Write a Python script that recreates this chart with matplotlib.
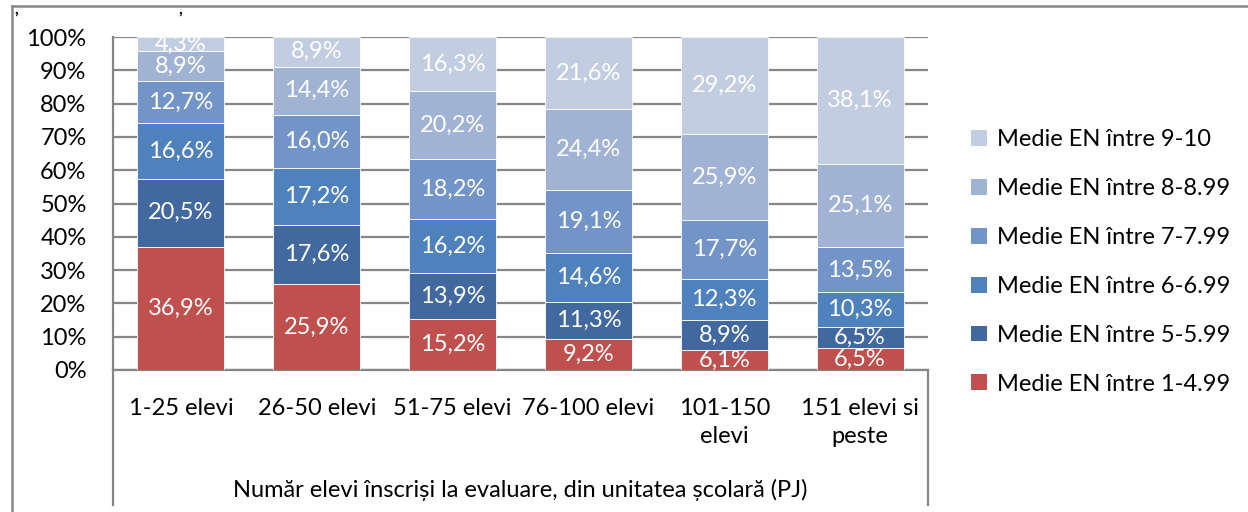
import matplotlib
matplotlib.use("Agg")
import matplotlib.pyplot as plt
from matplotlib.lines import Line2D
from matplotlib.patches import Patch
import numpy as np

plt.rcParams['font.family'] = ['Lato', 'DejaVu Sans']

categories = ["1-25 elevi", "26-50 elevi", "51-75 elevi", "76-100 elevi",
              "101-150\nelevi", "151 elevi si\npeste"]
series_names = ["Medie EN între 1-4.99", "Medie EN între 5-5.99", "Medie EN între 6-6.99",
                "Medie EN între 7-7.99", "Medie EN între 8-8.99", "Medie EN între 9-10"]
s_1_499 = [36.9, 25.9, 15.2, 9.2, 6.1, 6.5]
s_5_599 = [20.5, 17.6, 13.9, 11.3, 8.9, 6.5]
s_6_699 = [16.6, 17.2, 16.2, 14.6, 12.3, 10.3]
s_7_799 = [12.7, 16.0, 18.2, 19.1, 17.7, 13.5]
s_8_899 = [8.9, 14.4, 20.2, 24.4, 25.9, 25.1]
s_9_10 = [4.3, 8.9, 16.3, 21.6, 29.2, 38.1]
colors = ["#C0504D", "#41699F", "#4F81BD", "#7394C6", "#A1B3D5", "#C3CDE2"]
y_ticks = [0, 10, 20, 30, 40, 50, 60, 70, 80, 90, 100]
x_title = "Număr elevi înscriși la evaluare, din unitatea școlară (PJ)"

series = [s_1_499, s_5_599, s_6_699, s_7_799, s_8_899, s_9_10]
data = np.array(series)
totals = data.sum(axis=0)
norm = data / totals * 100

FS = 17
W, H = 1248, 512
fig = plt.figure(figsize=(W / 100, H / 100), dpi=100)
L, R, T, B = 113, 928, 37, 370
ax = fig.add_axes([L / W, 1 - B / H, (R - L) / W, (B - T) / H])

x = np.arange(len(categories))
bottom = np.zeros(len(categories))
handles = []
for vals, raw, c, name in zip(norm, data, colors, series_names):
    ax.bar(x, vals, bottom=bottom, width=0.64, color=c, edgecolor='white',
           linewidth=0.6, zorder=3)
    for xi, b, v, r in zip(x, bottom, vals, raw):
        ax.text(xi, b + v / 2, f"{r:.1f}%".replace('.', ','), ha='center', va='center',
                color='white', fontsize=FS, zorder=4)
    bottom += vals
    handles.append(Patch(facecolor=c, edgecolor='none', label=name))

ax.set_xlim(-0.5, len(categories) - 0.5)
ax.set_ylim(0, 100)
ax.set_yticks(y_ticks)
ax.set_yticklabels([f"{t}%" for t in y_ticks], fontsize=FS)
ax.tick_params(axis='y', length=0, pad=19)
ax.tick_params(axis='x', length=0, pad=20, labelsize=FS)
ax.set_xticks(x)
ax.set_xticklabels(categories, linespacing=1.4, va='top')
ax.yaxis.grid(True, color='#868686', linewidth=1.6, zorder=0)
ax.set_axisbelow(True)
for s in ['top', 'right']:
    ax.spines[s].set_visible(False)
ax.spines['left'].set_color('#868686')
ax.spines['left'].set_linewidth(1.6)
ax.spines['bottom'].set_color('#868686')
ax.spines['bottom'].set_linewidth(1.6)

depth = (505 - B) / (B - T)
for xa in (0, 1):
    ax.add_line(Line2D([xa, xa], [0, -depth], transform=ax.transAxes, color='#868686',
                       linewidth=1.6, clip_on=False))
ax.text(0.5, -(490 - B) / (B - T), x_title, transform=ax.transAxes, ha='center',
        va='center', fontsize=FS)

leg = fig.legend(handles=handles[::-1], loc='center left',
                 bbox_to_anchor=(962 / W, 1 - 262 / H), frameon=False, fontsize=FS,
                 handlelength=0.65, handleheight=0.65, handletextpad=0.45,
                 labelspacing=1.18, borderaxespad=0)

# figure frame
fig.add_artist(Line2D([12 / W, 1], [1 - 6 / H, 1 - 6 / H], transform=fig.transFigure,
                      color='#888888', linewidth=1.8))
fig.add_artist(Line2D([12 / W, 12 / W], [0, 1 - 6 / H], transform=fig.transFigure,
                      color='#888888', linewidth=1.8))
fig.text(14 / W, 1 - 0.5 / H, ",", fontsize=12, fontweight='bold', ha='left', va='top')
fig.text(178 / W, 1 - 0.5 / H, ",", fontsize=12, fontweight='bold', ha='left', va='top')

fig.savefig("out.png", dpi=100)
